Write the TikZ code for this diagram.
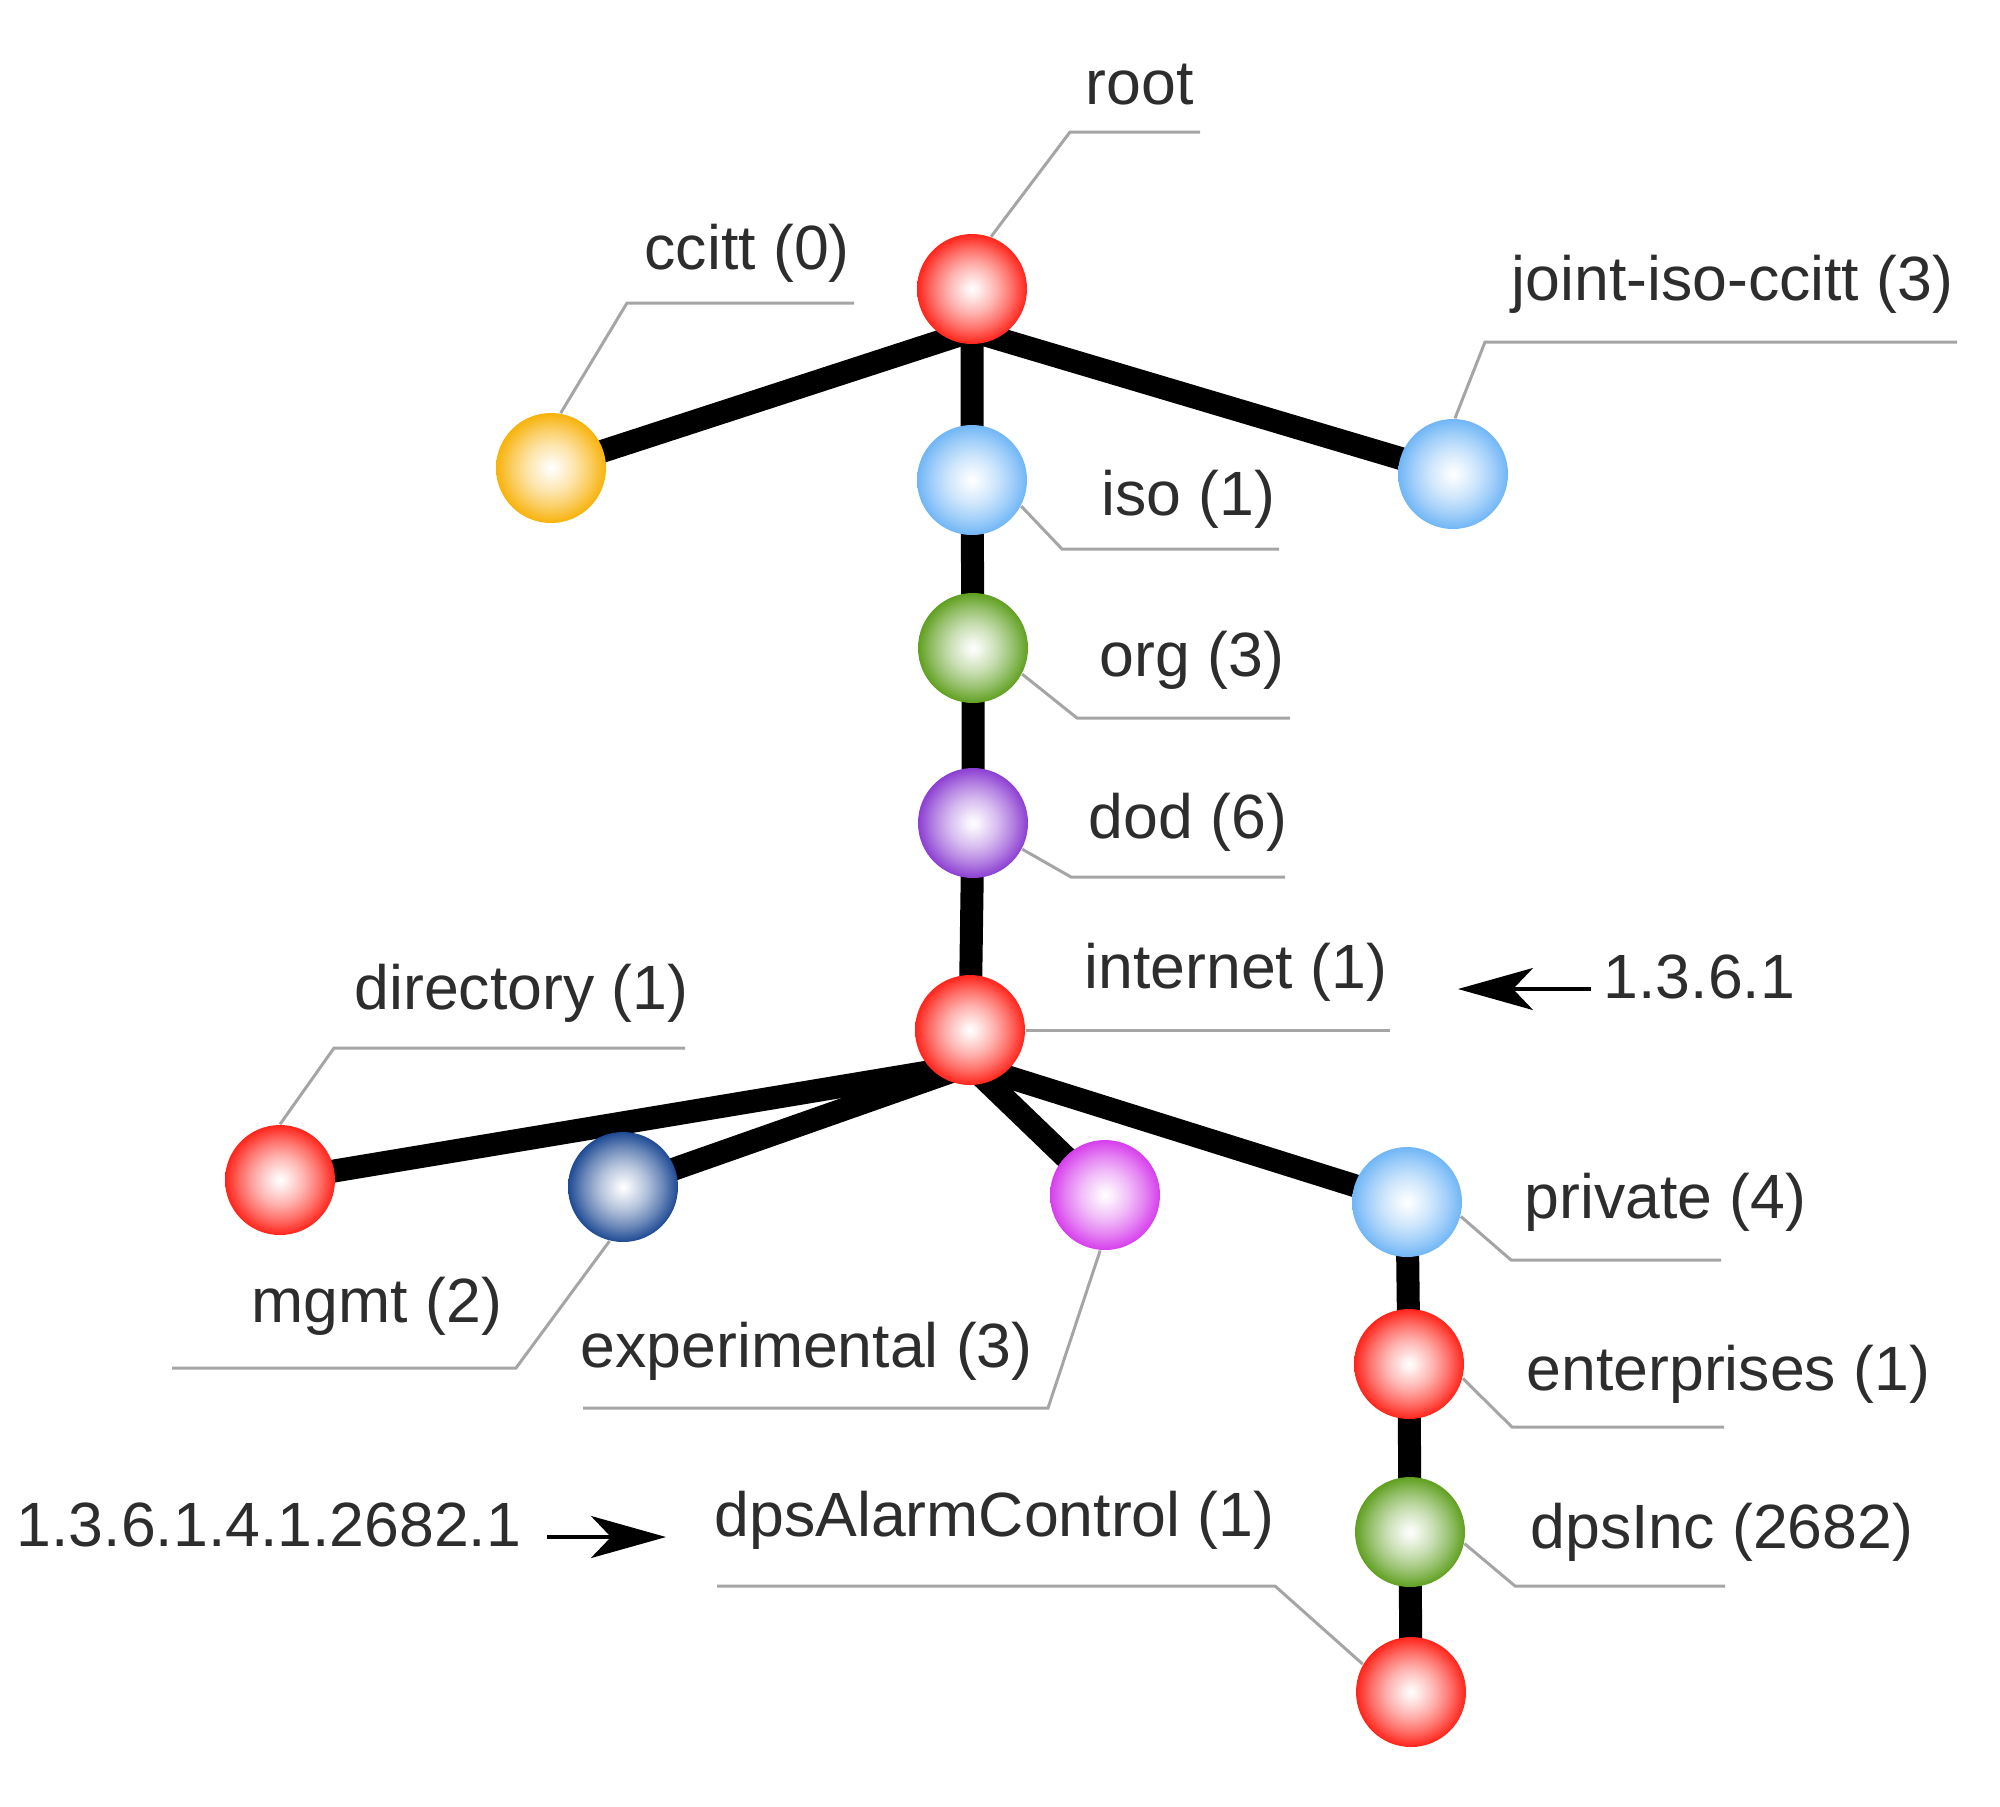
\documentclass[tikz,border=0pt]{standalone}
\usepackage{fontspec}
\setmainfont{Liberation Sans}
\usetikzlibrary{arrows.meta,backgrounds}

\definecolor{oidred}{RGB}{255,36,26}
\definecolor{oidorange}{RGB}{248,178,10}
\definecolor{oidsky}{RGB}{112,182,246}
\definecolor{oidgreen}{RGB}{96,160,32}
\definecolor{oidpurple}{RGB}{140,62,210}
\definecolor{oidnavy}{RGB}{30,74,148}
\definecolor{oidmagenta}{RGB}{214,62,236}
\definecolor{labelgray}{RGB}{45,45,45}
\definecolor{leadgray}{RGB}{165,165,165}

% shaded ball, colour taken from orbc
\colorlet{orbc}{oidred}
\pgfdeclareradialshading[orbc]{orb}{\pgfpoint{0bp}{0bp}}{color(0bp)=(white); color(3bp)=(orbc!8!white); color(11bp)=(orbc!35!white); color(18bp)=(orbc!65!white); color(23bp)=(orbc!90!white); color(25bp)=(orbc); color(50bp)=(orbc)}

\tikzset{
  orbnode/.style={circle, inner sep=0pt, minimum size=1.1cm, /utils/exec={\colorlet{orbc}{#1}}, shade, shading=orb},
  branch/.style={line width=0.23cm, line join=round},
  leader/.style={draw=leadgray, line width=0.03cm},
  lbl/.style={anchor=west, inner sep=0pt, text height=0.75em, text depth=0.22em, text=labelgray},
  pointer/.style={-{Stealth[length=0.75cm,width=0.42cm,inset=0.2cm]}, line width=0.04cm}
}

\begin{document}
\begin{tikzpicture}[font=\fontsize{17.8}{21}\selectfont]
    \useasboundingbox (0,0) rectangle (20,-18.06);

    % tree nodes
    \node[orbnode=oidred] (root) at (9.72,-2.89) {};
    \node[orbnode=oidorange] (ccitt) at (5.51,-4.68) {};
    \node[orbnode=oidsky] (iso) at (9.72,-4.80) {};
    \node[orbnode=oidsky] (joint) at (14.53,-4.74) {};
    \node[orbnode=oidgreen] (org) at (9.73,-6.48) {};
    \node[orbnode=oidpurple] (dod) at (9.73,-8.23) {};
    \node[orbnode=oidred] (internet) at (9.70,-10.30) {};
    \node[orbnode=oidred] (directory) at (2.80,-11.80) {};
    \node[orbnode=oidnavy] (mgmt) at (6.23,-11.87) {};
    \node[orbnode=oidmagenta] (experimental) at (11.05,-11.95) {};
    \node[orbnode=oidsky] (private) at (14.07,-12.02) {};
    \node[orbnode=oidred] (enterprises) at (14.09,-13.64) {};
    \node[orbnode=oidgreen] (dpsinc) at (14.10,-15.32) {};
    \node[orbnode=oidred] (alarm) at (14.11,-16.92) {};

    % branches behind the balls
    \begin{scope}[on background layer]
        \coordinate (roothub) at ([yshift=-0.42cm]root.center);
        \coordinate (inethub) at ([yshift=-0.35cm]internet.center);
        \draw[branch] (ccitt.center) -- (roothub) -- (joint.center);
        \draw[branch] (roothub) -- (iso.center) -- (org.center) -- (dod.center) -- (internet.center);
        \draw[branch] (directory.center) -- (inethub) -- (private.center) -- (enterprises.center) -- (dpsinc.center) -- (alarm.center);
        \draw[branch] (mgmt.center) -- (inethub) -- (experimental.center);
    \end{scope}

    % labels
    \node[lbl] (rootlbl) at (10.85,-0.95) {root};
    \node[lbl] (ccittlbl) at (6.44,-2.60) {ccitt (0)};
    \node[lbl] (jointlbl) at (15.11,-2.91) {joint-iso-ccitt (3)};
    \node[lbl] (isolbl) at (11.01,-5.06) {iso (1)};
    \node[lbl] (orglbl) at (10.99,-6.67) {org (3)};
    \node[lbl] (dodlbl) at (10.88,-8.29) {dod (6)};
    \node[lbl] (internetlbl) at (10.84,-9.79) {internet (1)};
    \node[lbl] (directorylbl) at (3.54,-10.00) {directory (1)};
    \node[lbl] (mgmtlbl) at (2.51,-13.13) {mgmt (2)};
    \node[lbl] (experimentallbl) at (5.80,-13.58) {experimental (3)};
    \node[lbl] (privatelbl) at (15.24,-12.09) {private (4)};
    \node[lbl] (enterpriseslbl) at (15.26,-13.81) {enterprises (1)};
    \node[lbl] (dpsinclbl) at (15.30,-15.39) {dpsInc (2682)};
    \node[lbl] (alarmlbl) at (7.14,-15.27) {dpsAlarmControl (1)};

    % leader lines
    \draw[leader] (root.70) -- (10.70,-1.32) -- (12.00,-1.32);
    \draw[leader] (ccitt.80) -- (6.27,-3.03) -- (8.54,-3.03);
    \draw[leader] (joint.88) -- (14.85,-3.42) -- (19.57,-3.42);
    \draw[leader] (iso.-28) -- (10.62,-5.49) -- (12.79,-5.49);
    \draw[leader] (org.-28) -- (10.77,-7.18) -- (12.90,-7.18);
    \draw[leader] (dod.-28) -- (10.71,-8.77) -- (12.85,-8.77);
    \draw[leader] (internet.east) -- (13.90,-10.30);
    \draw[leader] (directory.90) -- (3.34,-10.48) -- (6.85,-10.48);
    \draw[leader] (mgmt.-104) -- (5.16,-13.68) -- (1.72,-13.68);
    \draw[leader] (experimental.-95) -- (10.48,-14.08) -- (5.83,-14.08);
    \draw[leader] (private.-15) -- (15.11,-12.60) -- (17.21,-12.60);
    \draw[leader] (enterprises.-15) -- (15.12,-14.27) -- (17.24,-14.27);
    \draw[leader] (dpsinc.-12) -- (15.15,-15.86) -- (17.25,-15.86);
    \draw[leader] (alarm.150) -- (12.75,-15.86) -- (7.17,-15.86);

    % OID pointers
    \node[lbl] (inetoid) at (16.03,-9.89) {1.3.6.1};
    \coordinate (inettip) at (14.58,-9.89);
    \draw[pointer] ([xshift=-0.12cm]inetoid.west) -- (inettip);
    \node[lbl] (alarmoid) at (0.16,-15.37) {1.3.6.1.4.1.2682.1};
    \coordinate (alarmtip) at (6.66,-15.37);
    \draw[pointer] ([xshift=0.25cm]alarmoid.east) -- (alarmtip);
\end{tikzpicture}
\end{document}
